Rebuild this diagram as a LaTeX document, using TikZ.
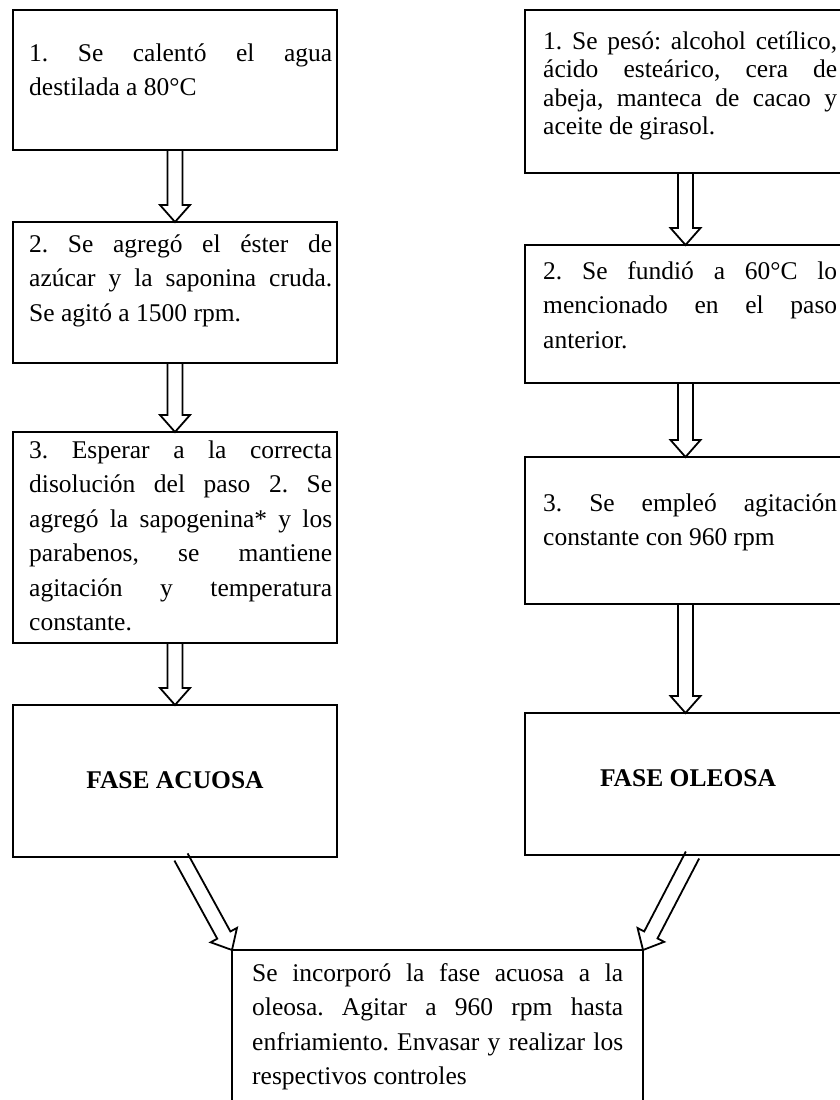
\documentclass[tikz,border=0pt]{standalone}
\usepackage{fontspec}
\setmainfont{Liberation Serif}
\usetikzlibrary{calc}
\frenchspacing
\newlength\wL \setlength\wL{303pt}
\newlength\wR \setlength\wR{294pt}
\newlength\wB \setlength\wB{371pt}
\newcommand{\jl}[2]{\hbox to #1{\spaceskip=0.25em plus 1fil\relax #2}\\}
\newcommand{\blockarrow}[2]{%
  \coordinate (bah) at ($(#2)!17pt!(#1)$);
  \draw[arrowline] ($(#1)!7.5pt!90:(#2)$) -- ($(bah)!7.5pt!90:(#2)$) -- ($(bah)!15pt!90:(#2)$) -- (#2)
    -- ($(bah)!15pt!-90:(#2)$) -- ($(bah)!7.5pt!-90:(#2)$) -- ($(#1)!7.5pt!-90:(#2)$);
}
\begin{document}
\begin{tikzpicture}[x=1pt,y=-1pt,
  box/.style={draw, line width=2pt, inner sep=0pt, outer sep=0pt, anchor=north west},
  txt/.style={inner sep=0pt, anchor=north west, align=justify, font=\fontsize{25.5pt}{34.5pt}\selectfont},
  txttight/.style={inner sep=0pt, anchor=north west, align=justify, font=\fontsize{25.5pt}{28.5pt}\selectfont},
  phase/.style={inner sep=0pt, font=\fontsize{25.5pt}{34.5pt}\selectfont\bfseries},
  arrowline/.style={line width=1.8pt}]
\useasboundingbox (0,0) rectangle (840,1100);
\clip (0,0) rectangle (840,1100);
\fill[white] (0,0) rectangle (840,1100);
% left column
\node[box, minimum width=324pt, minimum height=140pt] (L1) at (13,10) {};
\node[box, minimum width=324pt, minimum height=141pt] (L2) at (13,222) {};
\node[box, minimum width=324pt, minimum height=211pt] (L3) at (13,432) {};
\node[box, minimum width=324pt, minimum height=152pt] (L4) at (13,705) {};
% right column
\node[box, minimum width=321pt, minimum height=163pt] (R1) at (525,10) {};
\node[box, minimum width=321pt, minimum height=138pt] (R2) at (525,245) {};
\node[box, minimum width=321pt, minimum height=147pt] (R3) at (525,457) {};
\node[box, minimum width=321pt, minimum height=142pt] (R4) at (525,713) {};
% bottom
\node[box, minimum width=411pt, minimum height=170pt] (B) at (232,950) {};
% texts
\node[txt, text width=303pt] (tL1) at (29,36.7) {\jl\wL{\strut 1. Se calentó el agua}destilada a 80°C};
\node[txt, text width=303pt] (tL2) at (29,227.7) {\jl\wL{\strut 2. Se agregó el éster de}\jl\wL{azúcar y la saponina cruda.}Se agitó a 1500 rpm.};
\node[txt, text width=303pt] (tL3) at (29,433.7) {\jl\wL{\strut 3. Esperar a la correcta}\jl\wL{disolución del paso 2. Se}\jl\wL{agregó la sapogenina* y los}\jl\wL{parabenos, se mantiene}\jl\wL{agitación y temperatura}constante.};
\node[phase] (tL4) at (175,780) {FASE ACUOSA};
\node[txttight, text width=294pt] (tR1) at (543,28.9) {\jl\wR{\strut 1. Se pesó: alcohol cetílico,}\jl\wR{ácido esteárico, cera de}\jl\wR{abeja, manteca de cacao y}aceite de girasol.};
\node[txt, text width=294pt] (tR2) at (543,254.7) {\jl\wR{\strut 2. Se fundió a 60°C lo}\jl\wR{mencionado en el paso}anterior.};
\node[txt, text width=294pt] (tR3) at (543,486.7) {\jl\wR{\strut 3. Se empleó agitación}constante con 960 rpm};
\node[phase] (tR4) at (688,778) {FASE OLEOSA};
\node[txt, text width=371pt] (tB) at (252,956.7) {\jl\wB{\strut Se incorporó la fase acuosa a la}\jl\wB{oleosa. Agitar a 960 rpm hasta}\jl\wB{enfriamiento. Envasar y realizar los}respectivos controles};
% arrows
\blockarrow{L1.south}{L2.north}
\blockarrow{L2.south}{L3.north}
\blockarrow{L3.south}{L4.north}
\blockarrow{R1.south}{R2.north}
\blockarrow{R2.south}{R3.north}
\blockarrow{R3.south}{R4.north}
\coordinate (dL) at ($(L4.south)+(6,0)$);
\coordinate (dR) at ($(R4.south)+(7,0)$);
\blockarrow{dL}{B.north west}
\blockarrow{dR}{B.north east}
\end{tikzpicture}
\end{document}
